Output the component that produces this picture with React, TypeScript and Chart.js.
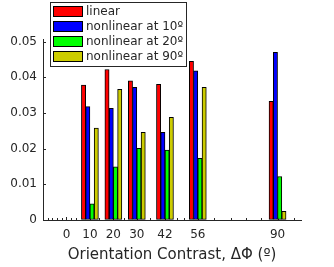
import React, { useEffect, useRef } from 'react';
import { Chart, registerables } from 'chart.js';

Chart.register(...registerables);

// ---- data ----
const contrasts = [10, 20, 30, 42, 56, 90];
const linearVals = [0.0378, 0.0422, 0.0390, 0.0380, 0.0445, 0.0333];
const nonlinear10Vals = [0.0318, 0.0313, 0.0372, 0.0246, 0.0418, 0.0470];
const nonlinear20Vals = [0.0045, 0.0149, 0.0201, 0.0196, 0.0173, 0.0122];
const nonlinear90Vals = [0.0258, 0.0366, 0.0246, 0.0288, 0.0372, 0.0024];
const seriesLabels = ['linear', 'nonlinear at 10º', 'nonlinear at 20º', 'nonlinear at 90º'];
const xTickValues = [0, 10, 20, 30, 42, 56, 90];
const xMinorTicks = [-8, -6, -4, -2, 2, 4, 14, 24.5, 35.5, 47, 50, 63, 70, 76.5, 83, 97];
const yTickValues = [0, 0.01, 0.02, 0.03, 0.04, 0.05];
const xTitle = 'Orientation Contrast, ΔΦ (º)';

const seriesValues = [linearVals, nonlinear10Vals, nonlinear20Vals, nonlinear90Vals];
const seriesColors = ['#ff0000', '#0000ff', '#00ff00', '#cccc00'];
const AXIS = '#262626';
const FONT = "'DejaVu Sans'";

const axisTicksPlugin = {
  id: 'axisTicks',
  beforeDatasetsDraw(chart: any) {
    const { ctx, chartArea, scales } = chart;
    const xs = scales.x;
    const ys = scales.y;
    ctx.save();
    ctx.strokeStyle = AXIS;
    ctx.lineWidth = 1;
    ctx.beginPath();
    const yb = Math.round(chartArea.bottom);
    xTickValues.forEach((v) => {
      const px = Math.round(xs.getPixelForValue(v)) + 0.5;
      ctx.moveTo(px, yb);
      ctx.lineTo(px, yb - 3);
    });
    xMinorTicks.forEach((v) => {
      const px = Math.round(xs.getPixelForValue(v)) + 0.5;
      ctx.moveTo(px, yb);
      ctx.lineTo(px, yb - 2);
    });
    const xl = Math.round(chartArea.left);
    yTickValues.forEach((v) => {
      const py = Math.round(ys.getPixelForValue(v)) + 0.5;
      ctx.moveTo(xl, py);
      ctx.lineTo(xl + 3, py);
    });
    ctx.stroke();
    ctx.restore();
  },
};

const boxLegendPlugin = {
  id: 'boxLegend',
  afterDraw(chart: any) {
    const { ctx } = chart;
    const datasets = chart.data.datasets;
    ctx.save();
    const bx = 50.5, by = 2.5, bw = 136, bh = 64;
    ctx.fillStyle = '#ffffff';
    ctx.fillRect(bx, by, bw, bh);
    ctx.strokeStyle = '#262626';
    ctx.lineWidth = 1;
    ctx.strokeRect(bx, by, bw, bh);
    ctx.font = `12px ${FONT}`;
    ctx.textBaseline = 'middle';
    ctx.textAlign = 'left';
    datasets.forEach((ds: any, i: number) => {
      const sy = 6 + i * 15;
      ctx.fillStyle = ds.backgroundColor;
      ctx.fillRect(53, sy, 30, 10);
      ctx.strokeStyle = '#000000';
      ctx.strokeRect(53.5, sy + 0.5, 29, 10);
      ctx.fillStyle = AXIS;
      ctx.fillText(ds.label, 86, sy + 5.5);
    });
    ctx.restore();
  },
};

export default function App() {
  const canvasRef = useRef<HTMLCanvasElement | null>(null);

  useEffect(() => {
    document.body.style.margin = '0';
    const canvas = canvasRef.current;
    if (!canvas) return;
    Chart.defaults.font.family = FONT;
    const chart = new Chart(canvas, {
      type: 'bar',
      data: {
        datasets: seriesLabels.map((label, i) => ({
          label,
          data: contrasts.map((c, j) => ({ x: c, y: seriesValues[i][j] })),
          backgroundColor: seriesColors[i],
          borderColor: '#000000',
          borderWidth: 1,
          borderSkipped: false,
          barThickness: 4.25,
        })),
      },
      options: {
        animation: false,
        responsive: false,
        maintainAspectRatio: false,
        layout: { padding: { top: 39.5, right: 33, left: 0, bottom: 0 } },
        plugins: {
          legend: { display: false },
          tooltip: { enabled: false },
        },
        scales: {
          x: {
            type: 'linear',
            position: 'bottom',
            min: -10,
            max: 100,
            offset: false,
            afterBuildTicks: (scale: any) => {
              scale.ticks = xTickValues.map((value) => ({ value }));
            },
            afterFit: (scale: any) => {
              scale.height = 47;
            },
            grid: { display: true, drawOnChartArea: false, drawTicks: false, offset: false },
            border: { display: true, color: AXIS, width: 1 },
            ticks: {
              color: AXIS,
              font: { size: 12, family: FONT },
              padding: 8,
              maxRotation: 0,
              autoSkip: false,
              callback: (v: any) => String(v),
            },
            title: {
              display: true,
              text: xTitle,
              color: AXIS,
              font: { size: 15, family: FONT },
              padding: { top: 0, bottom: 3 },
            },
          },
          y: {
            type: 'linear',
            min: 0,
            max: 0.0506,
            afterBuildTicks: (scale: any) => {
              scale.ticks = yTickValues.map((value) => ({ value }));
            },
            afterFit: (scale: any) => {
              scale.width = 43;
            },
            grid: { display: true, drawOnChartArea: false, drawTicks: false },
            border: { display: true, color: AXIS, width: 1 },
            ticks: {
              color: AXIS,
              font: { size: 12, family: FONT },
              padding: 6,
              callback: (v: any) => (v === 0 ? '0' : Number(v).toFixed(2)),
            },
          },
        },
      },
      plugins: [axisTicksPlugin, boxLegendPlugin],
    } as any);
    return () => chart.destroy();
  }, []);

  return (
    <div style={{ width: 334, height: 267 }}>
      <canvas ref={canvasRef} width={334} height={267} style={{ display: 'block' }} />
    </div>
  );
}
